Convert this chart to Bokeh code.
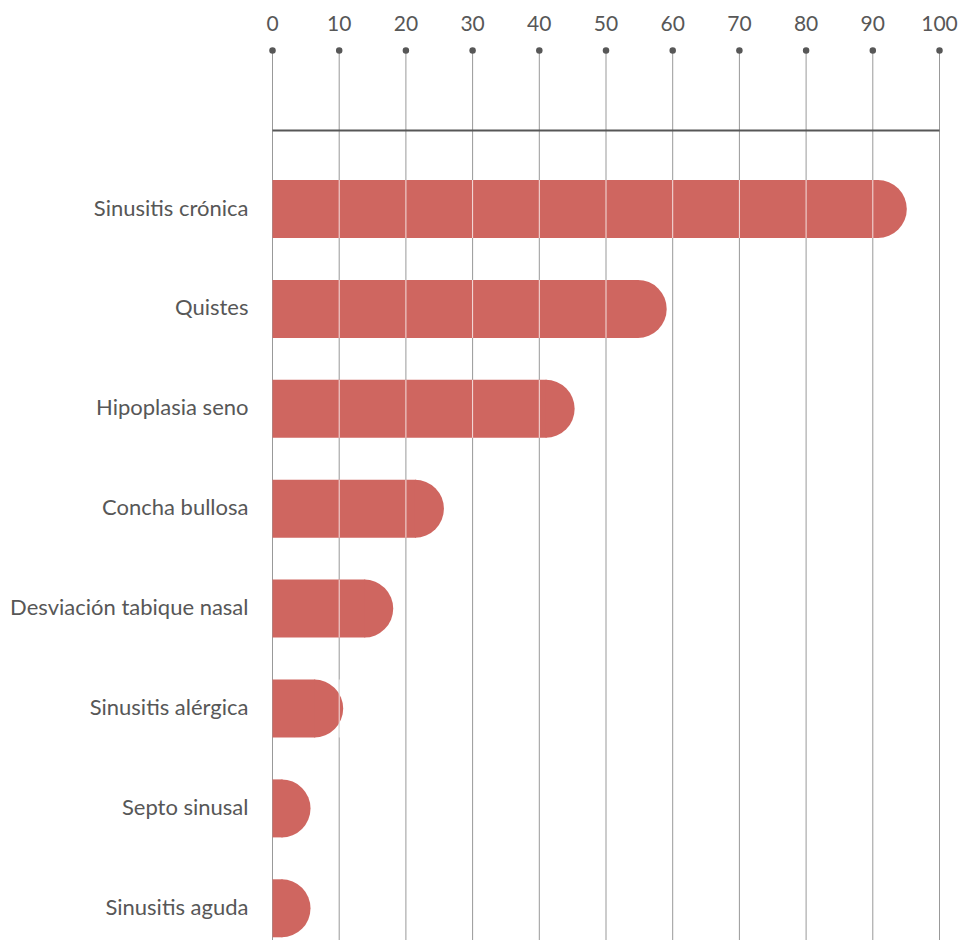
import math
from bokeh.plotting import figure
from bokeh.models import Range1d
from bokeh.core.properties import value
from bokeh.embed import file_html
from bokeh.resources import INLINE

# ---- data ----
categories = ["Sinusitis crónica", "Quistes", "Hipoplasia seno", "Concha bullosa",
              "Desviación tabique nasal", "Sinusitis alérgica", "Septo sinusal", "Sinusitis aguda"]
values = [95.1, 59.1, 45.3, 25.7, 18.1, 10.6, 5.7, 5.7]
ticks = [0, 10, 20, 30, 40, 50, 60, 70, 80, 90, 100]
tick_labels = ["0", "10", "20", "30", "40", "50", "60", "70", "80", "90", "100"]

# ---- layout ----
W, H = 961, 940
X0_PX, X100_PX = 272.0, 939.0      # pixel positions of 0 and 100
px_per_x = (X100_PX - X0_PX) / 100.0
ROW_PX = 99.9          # px per category row
FIRST_CENTER = 208.5   # px of first bar centre
BAR_PX = 58.0
n = len(categories)

def px_to_y(py):
    i = (py - FIRST_CENTER) / ROW_PX
    return (n - 1) - i

x_start = -X0_PX / px_per_x
x_end = (W - X0_PX) / px_per_x
y_top = px_to_y(0)
y_bottom = px_to_y(H)
y_label = px_to_y(23)
y_dot = px_to_y(50)
y_line = px_to_y(130)
bar_h = BAR_PX / ROW_PX
r_x = (BAR_PX / 2) / px_per_x

ys = [(n - 1) - i for i in range(n)]

TEXT = "#575757"
BAR = "#cf6660"
GRID = "#999999"
FONT = "Lato"

p = figure(width=W, height=H, output_backend="svg", toolbar_location=None,
           x_range=Range1d(x_start, x_end), y_range=Range1d(y_bottom, y_top),
           x_axis_location=None, y_axis_location=None,
           min_border_left=0, min_border_right=0, min_border_top=0, min_border_bottom=0)
p.outline_line_color = None
p.grid.visible = False
p.background_fill_color = "white"
p.border_fill_color = "white"

# category labels
p.text(x=[0] * n, y=ys, text=categories, x_offset=-24, y_offset=-2,
       text_align="right", text_baseline="middle",
       text_font=value(FONT), text_font_size="22px", text_color=TEXT)

# top tick labels of the value scale
p.text(x=ticks, y=[y_label] * len(ticks), text=tick_labels,
       text_align="center", text_baseline="middle",
       text_font=value(FONT), text_font_size="21px", text_color=TEXT)

# vertical grid lines from the dots down
p.segment(x0=ticks, y0=[y_dot] * len(ticks), x1=ticks, y1=[y_bottom] * len(ticks),
          line_color=GRID, line_width=1)
# dots
p.scatter(x=ticks, y=[y_dot] * len(ticks), size=6.5, color=TEXT, line_color=None)
# horizontal baseline under the axis
p.segment(x0=[0], y0=[y_line], x1=[100], y1=[y_line], line_color=TEXT, line_width=2)

# bars: rectangle + semicircular cap (rectangle slightly tucked under the cap to hide the seam)
cap_x = [v - r_x for v in values]
rect_right = [c + 1.0 / px_per_x for c in cap_x]
p.hbar(y=ys, left=0, right=rect_right, height=bar_h, fill_color=BAR, line_color=None)
p.wedge(x=cap_x, y=ys, radius=BAR_PX / 2, radius_units="screen",
        start_angle=-math.pi / 2, end_angle=math.pi / 2,
        fill_color=BAR, line_color=None)

# light grid lines across bars
sx0, sy0, sy1 = [], [], []
for y, v in zip(ys, values):
    for t in ticks:
        if 0 < t < v:
            sx0.append(t)
            sy0.append(y - bar_h / 2)
            sy1.append(y + bar_h / 2)
p.segment(x0=sx0, y0=sy0, x1=sx0, y1=sy1, line_color="white", line_alpha=0.8, line_width=1)

open("out.html", "w").write(file_html(p, INLINE))
